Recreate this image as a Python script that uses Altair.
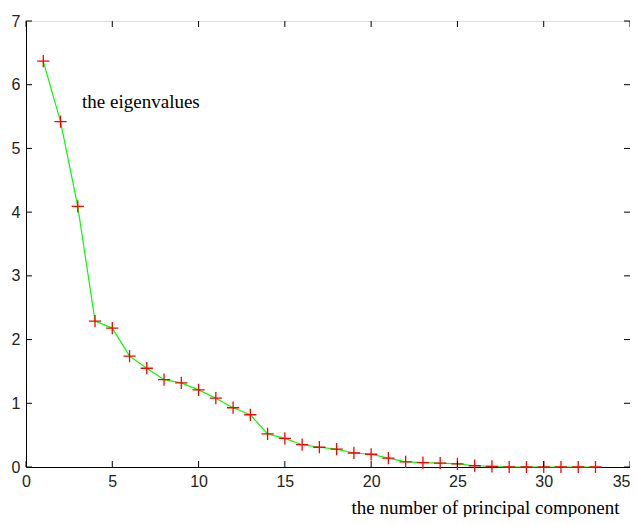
import altair as alt
import pandas as pd

components = list(range(1, 34))
eigenvalues = [6.37, 5.42, 4.09, 2.29, 2.18, 1.74, 1.55, 1.37, 1.32, 1.21,
               1.08, 0.93, 0.82, 0.52, 0.45, 0.35, 0.31, 0.28, 0.22, 0.20,
               0.14, 0.08, 0.07, 0.06, 0.05, 0.02, 0.01, 0.0, 0.0, 0.0,
               0.0, 0.0, 0.0]
x_ticks = [0, 5, 10, 15, 20, 25, 30, 35]
y_ticks = [0, 1, 2, 3, 4, 5, 6, 7]

df = pd.DataFrame({"n": components, "ev": eigenvalues})
xt = pd.DataFrame({"t": x_ticks})
yt = pd.DataFrame({"t": y_ticks})

W, H = 604, 446
xs = alt.Scale(domain=[0, 35], nice=False, zero=False)
ys = alt.Scale(domain=[0, 7], nice=False, zero=False)

x_enc = alt.X("n:Q", scale=xs, axis=alt.Axis(
    values=x_ticks, format="d", title="the number of principal component", grid=False,
    ticks=False, labelPadding=6, labelFlush=False, labelOverlap=False,
    labelAlign={"condition": {"test": "datum.value == 35", "value": "right"},
                "value": "center"},
    domainColor="#000", domainWidth=1,
    labelFont="Liberation Sans", labelFontSize=16, labelColor="#222",
    titleFont="Liberation Serif", titleFontSize=19, titleFontWeight="normal",
    titleColor="#000", titleX=593, titleY=46, titleAlign="right",
    titleBaseline="alphabetic"))
y_enc = alt.Y("ev:Q", scale=ys, axis=alt.Axis(
    values=y_ticks, format="d", title=None, grid=False, ticks=False, labelPadding=6,
    labelFlush=False, labelOverlap=False,
    domainColor="#000", domainWidth=1,
    labelFont="Liberation Sans", labelFontSize=16, labelColor="#222"))

base = alt.Chart(df)
line = base.mark_line(color="#00ff00", strokeWidth=1.2).encode(x=x_enc, y=y_enc)
pts = base.mark_point(shape="M-1,0L1,0M0,-1L0,1", filled=False, color="#ff0000",
                      size=150, strokeWidth=1.3, opacity=1).encode(
    x=alt.X("n:Q", scale=xs), y=alt.Y("ev:Q", scale=ys))

tk = 6
xb = alt.Chart(xt).mark_rule(color="#000", strokeWidth=1).encode(
    x=alt.X("t:Q", scale=xs), y=alt.value(H), y2=alt.value(H - tk))
xtop = alt.Chart(xt).mark_rule(color="#000", strokeWidth=1).encode(
    x=alt.X("t:Q", scale=xs), y=alt.value(0), y2=alt.value(tk))
yl = alt.Chart(yt).mark_rule(color="#000", strokeWidth=1).encode(
    y=alt.Y("t:Q", scale=ys), x=alt.value(0), x2=alt.value(tk))
yr = alt.Chart(yt).mark_rule(color="#000", strokeWidth=1).encode(
    y=alt.Y("t:Q", scale=ys), x=alt.value(W), x2=alt.value(W - tk))

label = alt.Chart(pd.DataFrame({"s": ["the eigenvalues"]})).mark_text(
    align="left", baseline="middle", font="Liberation Serif", fontSize=19,
    color="#000").encode(x=alt.datum(3.25), y=alt.datum(5.73), text="s:N")

chart = alt.layer(line, pts, xb, xtop, yl, yr, label).properties(
    width=W, height=H,
    autosize=alt.AutoSizeParams(type="none"),
    padding={"left": 18, "top": 13, "right": 0, "bottom": 50},
).configure_view(stroke="#000", strokeWidth=1).configure(background="white")

chart.save("out.html", embed_options={"renderer": "svg", "actions": False})
